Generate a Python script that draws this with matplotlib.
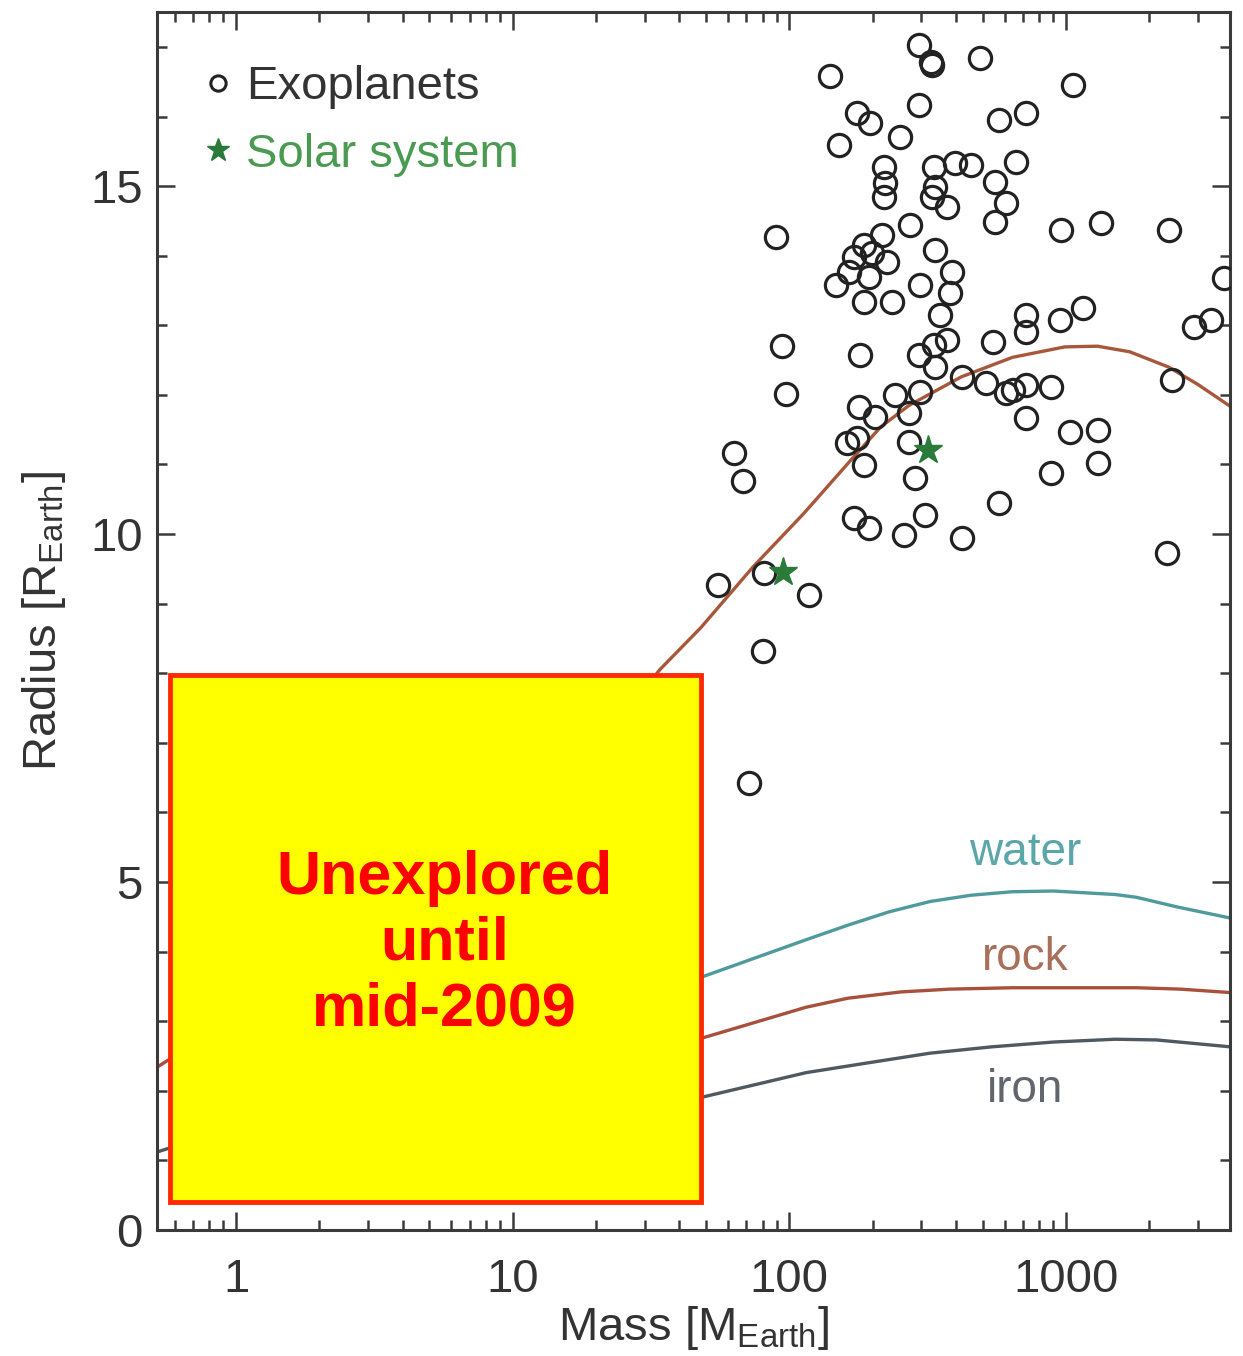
import matplotlib
matplotlib.use("Agg")
import matplotlib.pyplot as plt
from matplotlib.lines import Line2D
from matplotlib.patches import Rectangle
from matplotlib.ticker import LogLocator, MultipleLocator, NullFormatter

plt.rcParams['font.family'] = ['Liberation Sans', 'DejaVu Sans']
plt.rcParams['mathtext.default'] = 'regular'

# exoplanets: mass [M_Earth], radius [R_Earth]
exo_mass = [140, 295, 328, 325, 491, 295, 175, 195, 151, 251,
            575, 716, 660, 220, 221, 220, 334, 398, 452, 337,
            328, 372, 556, 605, 556, 273, 216, 186, 172, 199,
            225, 165, 194, 148, 186, 235, 297, 337, 388, 382,
            351, 372, 334, 295, 337, 543, 180, 94.3, 241, 297,
            422, 512, 605, 178, 97.5, 89.7, 161, 175, 186, 271,
            285, 575, 171, 194, 310, 260, 422, 204, 271, 1060,
            959, 1340, 2350, 3724, 716, 716, 951, 1153, 2897, 3342,
            2409, 641, 716, 881, 716, 1035, 1306, 1306, 881, 2311,
            63.1, 68.0, 55.2, 81.1, 118, 80.4, 71.6]
exo_radius = [16.59, 17.03, 16.74, 16.78, 16.84, 16.16, 16.05, 15.91, 15.59, 15.71,
              15.95, 16.05, 15.35, 15.27, 15.04, 14.84, 15.27, 15.33, 15.30, 14.99,
              14.84, 14.70, 15.06, 14.76, 14.48, 14.44, 14.30, 14.15, 13.98, 14.04,
              13.91, 13.76, 13.69, 13.58, 13.33, 13.33, 13.58, 14.08, 13.76, 13.46,
              13.15, 12.79, 12.72, 12.57, 12.40, 12.76, 12.57, 12.70, 12.00, 12.04,
              12.26, 12.17, 12.03, 11.82, 12.01, 14.27, 11.31, 11.38, 10.99, 11.32,
              10.80, 10.45, 10.23, 10.09, 10.27, 9.99, 9.94, 11.68, 11.74, 16.45,
              14.37, 14.47, 14.37, 13.68, 13.15, 12.90, 13.07, 13.25, 12.97, 13.07,
              12.21, 12.07, 12.14, 12.11, 11.67, 11.47, 11.49, 11.02, 10.88, 9.73,
              11.16, 10.76, 9.27, 9.44, 9.12, 8.32, 6.42]

# solar system planets (Venus, Earth, Uranus, Neptune, Saturn, Jupiter)
sol_mass = [0.815, 1.0, 14.5, 17.1, 95.2, 317.8]
sol_radius = [0.95, 1.0, 4.01, 3.88, 9.45, 11.21]

# model mass-radius curves
hhe_mass = [20, 34, 48, 74, 113, 171, 214, 271, 419, 641, 991, 1300, 1700, 2350, 3000, 3980]
hhe_radius = [6.9, 8.05, 8.66, 9.53, 10.3, 11.11, 11.54, 11.85, 12.26, 12.54, 12.69,
              12.70, 12.62, 12.40, 12.15, 11.82]

water_mass = [10, 20, 48.7, 115, 163, 229, 323, 455, 641, 904, 1507, 1797, 2533, 3947]
water_radius = [2.7, 3.1, 3.64, 4.17, 4.38, 4.57, 4.72, 4.81, 4.86, 4.87, 4.82, 4.78, 4.64, 4.48]

rock_mass = [0.5, 0.6, 2, 10, 48.7, 115, 163, 253, 380, 641, 1797, 2600, 3947]
rock_radius = [2.3, 2.5, 2.55, 2.6, 2.76, 3.20, 3.33, 3.42, 3.46, 3.48, 3.48, 3.46, 3.41]

iron_mass = [0.5, 0.6, 2, 10, 48.7, 115, 192, 323, 537, 904, 1507, 2125, 3947]
iron_radius = [1.1, 1.2, 1.35, 1.6, 1.91, 2.26, 2.40, 2.54, 2.63, 2.70, 2.74, 2.73, 2.63]

fig = plt.figure(figsize=(12.43, 13.56), dpi=100)
ax = fig.add_axes([0.126, 0.093, 0.8635, 0.898])

ax.plot(hhe_mass, hhe_radius, color='#a8583a', lw=2.4, zorder=2)
ax.plot(water_mass, water_radius, color='#4e9a9c', lw=2.4, zorder=2)
ax.plot(rock_mass, rock_radius, color='#a8503c', lw=2.4, zorder=2)
ax.plot(iron_mass, iron_radius, color='#505860', lw=2.4, zorder=2)

ax.text(710, 5.42, 'water', color='#5aa6a8', fontsize=33, ha='center', va='center')
ax.text(710, 3.91, 'rock', color='#a8705a', fontsize=33, ha='center', va='center')
ax.text(710, 2.01, 'iron', color='#60666c', fontsize=33, ha='center', va='center')

ax.plot(exo_mass, exo_radius, 'o', mfc='none', mec='#222222', ms=16, mew=2.3, zorder=3)
ax.plot(sol_mass, sol_radius, '*', color='#2a7a3a', ms=21, zorder=4)

ax.set_xscale('log')
ax.set_xlim(0.516, 3917)
ax.set_ylim(0, 17.5)

ax.xaxis.set_minor_locator(LogLocator(base=10, subs=range(2, 10), numticks=20))
ax.xaxis.set_minor_formatter(NullFormatter())
ax.set_xticks([1, 10, 100, 1000])
ax.set_xticklabels(['1', '10', '100', '1000'])
ax.yaxis.set_major_locator(MultipleLocator(5))
ax.yaxis.set_minor_locator(MultipleLocator(1))

for s in ax.spines.values():
    s.set_color('#3a3a3a')
    s.set_linewidth(2.2)
ax.tick_params(which='both', direction='in', top=True, right=True,
               color='#3a3a3a', width=1.8, labelcolor='#333333', labelsize=34)
ax.tick_params(which='major', length=13)
ax.tick_params(which='minor', length=7)
ax.tick_params(axis='x', pad=20)
ax.tick_params(axis='y', pad=10)

ax.set_xlabel('Mass [M$_{Earth}$]', fontsize=34, color='#333333', labelpad=2)
ax.set_ylabel('Radius [R$_{Earth}$]', fontsize=34, color='#333333', labelpad=16)

handles = [Line2D([], [], ls='none', marker='o', mfc='none', mec='#222222', ms=11, mew=2.2),
           Line2D([], [], ls='none', marker='*', color='#2a7a3a', ms=17)]
leg = ax.legend(handles, ['Exoplanets', 'Solar system'], loc='upper left',
                bbox_to_anchor=(0.022, 0.972), frameon=False, fontsize=34,
                handlelength=0.8, handletextpad=0.2, labelspacing=0.5,
                borderaxespad=0)
leg.get_texts()[0].set_color('#333333')
leg.get_texts()[1].set_color('#4a9a52')

# region not yet explored
ax.add_patch(Rectangle((0.575, 0.4), 47.9 - 0.575, 7.57, facecolor='#ffff00',
                       edgecolor='#ff2a00', lw=3.5, zorder=10))
ax.text(10 ** ((445 - 238) / 275), (1230 - 944) / 69.6, 'Unexplored\nuntil\nmid-2009',
        color='#ff0000', fontsize=44, fontweight='bold', ha='center', va='center',
        linespacing=1.2, zorder=11)

fig.savefig('out.png', dpi=100)
